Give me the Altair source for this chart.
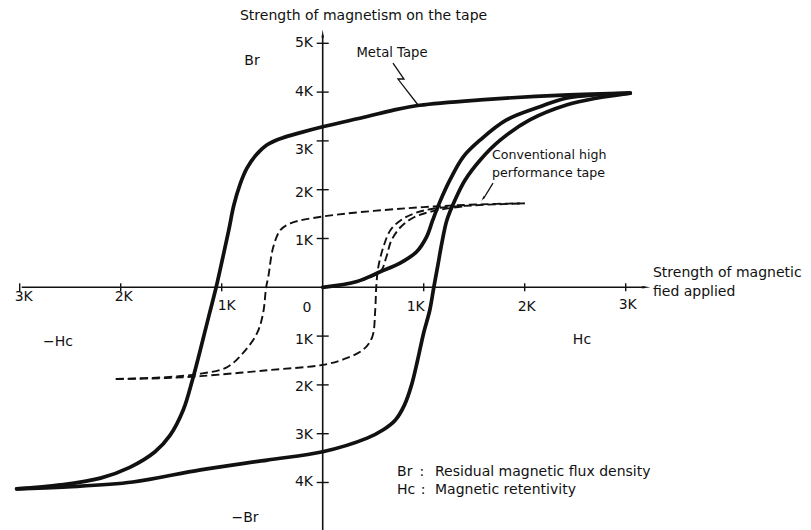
import altair as alt
import pandas as pd

# ---------------- data (H = applied field in K, B = magnetism in K) ----------------
# Metal tape, descending branch (from +saturation to -saturation)
metal_down_h = [3.045, 2.38, 1.56, 0.96, 0.70, 0.44, 0.00, -0.22, -0.40, -0.55, -0.66, -0.75, -0.82,
                -0.88, -0.93, -0.99, -1.055, -1.12, -1.17, -1.22, -1.29, -1.38, -1.51, -1.66,
                -1.91, -2.20, -2.60, -3.03]
metal_down_b = [3.98, 3.94, 3.84, 3.73, 3.63, 3.50, 3.29, 3.17, 3.06, 2.92, 2.71, 2.44, 2.10,
                1.68, 1.17, 0.60, 0.00, -0.53, -0.94, -1.35, -1.90, -2.51, -3.03, -3.37,
                -3.69, -3.91, -4.05, -4.13]
# Metal tape, ascending branch
metal_up_h = [-3.03, -2.53, -1.88, -1.21, -0.55, 0.00, 0.44, 0.60, 0.72, 0.81, 0.88, 0.94,
              1.00, 1.06, 1.10, 1.14, 1.18, 1.23, 1.31, 1.41, 1.56, 1.76, 2.05, 2.42, 2.72, 3.045]
metal_up_b = [-4.13, -4.09, -3.99, -3.74, -3.54, -3.37, -3.09, -2.92, -2.72, -2.41, -2.00, -1.49,
              -0.93, -0.47, 0.00, 0.45, 0.91, 1.38, 1.79, 2.20, 2.61, 3.02, 3.43, 3.74, 3.88, 3.98]
# Metal tape, initial magnetisation curve
metal_virgin_h = [0.00, 0.34, 0.57, 0.77, 0.93, 1.03, 1.09, 1.16, 1.26, 1.39, 1.56, 1.82, 2.15, 2.42, 3.045]
metal_virgin_b = [0.00, 0.12, 0.32, 0.50, 0.73, 1.04, 1.38, 1.75, 2.20, 2.67, 3.02, 3.43, 3.70, 3.88, 3.98]

# Conventional tape, descending branch
conv_down_h = [2.00, 1.56, 0.83, 0.00, -0.32, -0.42, -0.49, -0.54, -0.56, -0.59, -0.65, -0.79,
               -0.95, -1.21, -1.55, -2.05]
conv_down_b = [1.72, 1.70, 1.62, 1.45, 1.31, 1.17, 0.82, 0.20, 0.00, -0.53, -0.94, -1.35,
               -1.64, -1.77, -1.84, -1.88]
# Conventional tape, ascending branch
conv_up_h = [-2.05, -1.55, -1.21, -0.55, 0.00, 0.20, 0.40, 0.49, 0.52, 0.53, 0.55, 0.60,
             0.67, 0.77, 0.90, 1.09, 1.50, 2.00]
conv_up_b = [-1.88, -1.86, -1.82, -1.70, -1.59, -1.48, -1.28, -1.02, -0.47, 0.00, 0.41, 0.82,
             1.17, 1.37, 1.51, 1.61, 1.68, 1.72]
# Conventional tape, initial magnetisation curve
conv_virgin_h = [0.00, 0.34, 0.57, 0.63, 0.68, 0.77, 0.90, 1.09, 1.40]
conv_virgin_b = [0.00, 0.12, 0.32, 0.62, 0.96, 1.23, 1.43, 1.56, 1.66]

x_ticks = [-3, -2, -1, 1, 2, 3]
x_tick_labels = ["3K", "2K", "1K", "1K", "2K", "3K"]
y_ticks = [5, 4, 3, 2, 1, -1, -2, -3, -4]
y_tick_labels = ["5K", "4K", "3K", "2K", "1K", "1K", "2K", "3K", "4K"]

# ---------------- layout ----------------
W, H = 795, 522
PX_X, PX_Y = 101.0, 48.8          # pixels per 1K on each axis
XS = alt.Scale(domain=[-3.1158, 4.7554], nice=False, zero=False)
YS = alt.Scale(domain=[-4.9734, 5.7234], nice=False, zero=False)
FONT = "DejaVu Sans"
INK = "#111111"

x_label_dx = [4, 3, 5, -8, 2, 2]
x_label_dy = [10, 10, 19, 20, 20, 18]
y_label_dy = [0, 0, 9, 3, 2, 4, 2, 1, 0]


def enc(ch):
    return ch.encode(x=alt.X("h:Q", scale=XS, axis=None), y=alt.Y("b:Q", scale=YS, axis=None))


def curve(name, hs, bs):
    return pd.DataFrame({"h": hs, "b": bs, "branch": name, "i": list(range(len(hs)))})


solid_df = pd.concat([curve("down", metal_down_h, metal_down_b),
                      curve("up", metal_up_h, metal_up_b),
                      curve("virgin", metal_virgin_h, metal_virgin_b)])
dash_df = pd.concat([curve("down", conv_down_h, conv_down_b),
                     curve("up", conv_up_h, conv_up_b),
                     curve("virgin", conv_virgin_h, conv_virgin_b)])

dashed = alt.Chart(dash_df).mark_line(interpolate="catmull-rom", strokeWidth=1.9, color=INK,
                                      strokeDash=[8, 4]).encode(
    x=alt.X("h:Q", scale=XS, axis=None), y=alt.Y("b:Q", scale=YS, axis=None),
    detail="branch:N", order="i:Q")
solid = alt.Chart(solid_df).mark_line(interpolate="catmull-rom", strokeWidth=3.7, color=INK,
                                      strokeCap="round").encode(
    x=alt.X("h:Q", scale=XS, axis=None), y=alt.Y("b:Q", scale=YS, axis=None),
    detail="branch:N", order="i:Q")

# axes lines
axis_x = alt.Chart(pd.DataFrame({"h": [-2.98], "h2": [3.19], "b": [0.0]})).mark_rule(
    color=INK, strokeWidth=1.6).encode(
    x=alt.X("h:Q", scale=XS, axis=None), x2="h2:Q", y=alt.Y("b:Q", scale=YS, axis=None))
axis_y = alt.Chart(pd.DataFrame({"h": [0.0], "b": [-4.9734], "b2": [5.17]})).mark_rule(
    color=INK, strokeWidth=1.6).encode(
    x=alt.X("h:Q", scale=XS, axis=None), y=alt.Y("b:Q", scale=YS, axis=None), y2="b2:Q")
arrow_x = enc(alt.Chart(pd.DataFrame({"h": [3.19], "b": [0.0]})).mark_point(
    shape="wedge", angle=90, size=90, filled=True, color=INK, opacity=1))
arrow_y = enc(alt.Chart(pd.DataFrame({"h": [0.0], "b": [5.17]})).mark_point(
    shape="wedge", angle=0, size=90, filled=True, color=INK, opacity=1))

xt = pd.DataFrame({"h": x_ticks, "b": [-4 / PX_Y] * 6, "b2": [4 / PX_Y] * 6})
xtick = alt.Chart(xt).mark_rule(color=INK, strokeWidth=1.4).encode(
    x=alt.X("h:Q", scale=XS, axis=None), y=alt.Y("b:Q", scale=YS, axis=None), y2="b2:Q")
yt = pd.DataFrame({"b": y_ticks, "h": [-6 / PX_X] * 9, "h2": [6 / PX_X] * 9})
ytick = alt.Chart(yt).mark_rule(color=INK, strokeWidth=1.4).encode(
    x=alt.X("h:Q", scale=XS, axis=None), x2="h2:Q", y=alt.Y("b:Q", scale=YS, axis=None))

xl = pd.DataFrame({"t": x_tick_labels + ["0"],
                   "h": [v + d / PX_X for v, d in zip(x_ticks, x_label_dx)] + [-15.7 / PX_X],
                   "b": [-d / PX_Y for d in x_label_dy] + [-20.7 / PX_Y]})
xlab = enc(alt.Chart(xl).mark_text(font=FONT, fontSize=14, color=INK, align="center",
                                   baseline="middle")).encode(text="t:N")
yl = pd.DataFrame({"t": y_tick_labels, "h": [-9.7 / PX_X] * 9,
                   "b": [v - d / PX_Y for v, d in zip(y_ticks, y_label_dy)]})
ylab = enc(alt.Chart(yl).mark_text(font=FONT, fontSize=14, color=INK, align="right",
                                   baseline="middle")).encode(text="t:N")

# annotations
left_txt = pd.DataFrame({
    "t": ["Strength of magnetism on the tape", "Strength of magnetic", "fied applied",
          "Br", "Hc", "Residual magnetic flux density", "Magnetic retentivity"],
    "h": [-0.819, 3.27, 3.27, 0.736, 0.736, 1.112, 1.112],
    "b": [5.56, 0.293, -0.098, -3.785, -4.154, -3.785, -4.154]})
ltext = enc(alt.Chart(left_txt).mark_text(font=FONT, fontSize=14, color=INK, align="left",
                                          baseline="middle")).encode(text="t:N")
small_txt = pd.DataFrame({"t": ["Conventional high", "performance tape"],
                          "h": [1.676, 1.676], "b": [2.711, 2.342]})
stext = enc(alt.Chart(small_txt).mark_text(font=FONT, fontSize=12.6, color=INK, align="left",
                                           baseline="middle")).encode(text="t:N")
center_txt = pd.DataFrame({"t": ["Br", "−Hc", "Hc", "−Br", ":", ":"],
                           "h": [-0.70, -2.621, 2.567, -0.769, 0.983, 0.993],
                           "b": [4.64, -1.121, -1.080, -4.727, -3.785, -4.154]})
ctext = enc(alt.Chart(center_txt).mark_text(font=FONT, fontSize=14, color=INK, align="center",
                                            baseline="middle")).encode(text="t:N")
metal_lbl = enc(alt.Chart(pd.DataFrame({"t": ["Metal Tape"], "h": [0.686], "b": [4.80]})).mark_text(
    font=FONT, fontSize=13.2, color=INK, align="center", baseline="middle")).encode(text="t:N")

zig = pd.DataFrame({"h": [0.696, 0.805, 0.745, 0.944], "b": [4.596, 4.268, 4.268, 3.736],
                    "i": [0, 1, 2, 3]})
zigline = alt.Chart(zig).mark_line(color=INK, strokeWidth=1.3).encode(
    x=alt.X("h:Q", scale=XS, axis=None), y=alt.Y("b:Q", scale=YS, axis=None), order="i:Q")
ptr = pd.DataFrame({"h": [1.686, 1.590], "b": [2.133, 1.81], "i": [0, 1]})
ptrline = alt.Chart(ptr).mark_line(color=INK, strokeWidth=1.3).encode(
    x=alt.X("h:Q", scale=XS, axis=None), y=alt.Y("b:Q", scale=YS, axis=None), order="i:Q")
ptrhead = enc(alt.Chart(pd.DataFrame({"h": [1.590], "b": [1.83]})).mark_point(
    shape="wedge", angle=213, size=40, filled=True, color=INK, opacity=1))

chart = alt.layer(dashed, solid, axis_x, axis_y, arrow_x, arrow_y, xtick, ytick, xlab, ylab,
                  ltext, stext, ctext, metal_lbl, zigline, ptrline, ptrhead).properties(
    width=W, height=H, padding=0, autosize=alt.AutoSizeParams(type="none"),
    background="white").configure_view(stroke=None)

chart.save("out.html", embed_options={"renderer": "svg", "actions": False})
